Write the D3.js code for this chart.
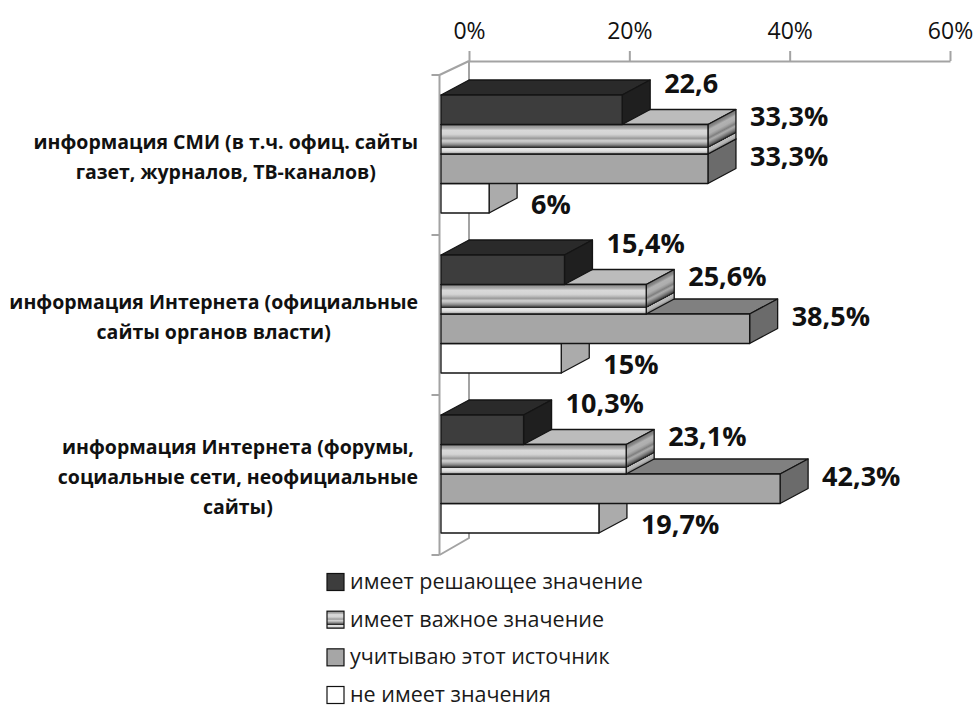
<!DOCTYPE html>
<html><head><meta charset="utf-8">
<script src="https://cdn.jsdelivr.net/npm/d3@7"></script>
<style>body{margin:0;background:#fff}svg{display:block}</style>
</head><body><svg id="c" width="975" height="707"></svg>
<script>
// ---- data ----
const categoryLines = [
  ["информация СМИ (в т.ч. офиц. сайты", "газет, журналов, ТВ-каналов)"],
  ["информация Интернета (официальные", "сайты органов власти)"],
  ["информация Интернета (форумы,", "социальные сети, неофициальные", "сайты)"]
];
const seriesNames = ["имеет решающее значение", "имеет важное значение", "учитываю этот источник", "не имеет значения"];
const decisive  = [22.6, 15.4, 10.3];
const important = [33.3, 25.6, 23.1];
const consider  = [33.3, 38.5, 42.3];
const noValue   = [6, 15, 19.7];
const decisiveLabels  = ["22,6", "15,4%", "10,3%"];
const importantLabels = ["33,3%", "25,6%", "23,1%"];
const considerLabels  = ["33,3%", "38,5%", "42,3%"];
const noValueLabels   = ["6%", "15%", "19,7%"];
const tickValues = [0, 20, 40, 60];
const tickLabels = ["0%", "20%", "40%", "60%"];

const seriesValues = [decisive, important, consider, noValue];
const seriesLabels = [decisiveLabels, importantLabels, considerLabels, noValueLabels];

// ---- layout / style ----
const FONT = "'Open Sans', 'Noto Sans', sans-serif";
const svg = d3.select("#c");
const depthX = 28, depthY = -15;
const axisY = 61;
const xBar = d3.scaleLinear().domain([0, 60]).range([441, 922]);
const xAxisScale = d3.scaleLinear().domain([0, 60]).range([441 + depthX, 922 + depthX]);
const yCat = d3.scaleBand().domain(d3.range(categoryLines.length)).range([75, 555]);
const ySer = d3.scaleBand().domain(d3.range(seriesNames.length)).range([20, 138]);
const labelDy = [-26, -23, -12, 6];

const defs = svg.append("defs");
function grad(id, stops, x1, y1, x2, y2) {
  const g = defs.append("linearGradient").attr("id", id)
    .attr("x1", x1).attr("y1", y1).attr("x2", x2).attr("y2", y2);
  stops.forEach(([o, c]) => g.append("stop").attr("offset", o).attr("stop-color", c));
}
const stripeStops = [
  [0, "#8a8a8a"], [0.12, "#a9a9a9"], [0.2, "#d9d9d9"], [0.33, "#d4d4d4"], [0.4, "#bcbcbc"],
  [0.47, "#9a9a9a"], [0.55, "#d0d0d0"], [0.6, "#bdbdbd"], [0.68, "#8c8c8c"], [0.74, "#5a5a5a"],
  [0.76, "#2e2e2e"], [0.79, "#2e2e2e"], [0.81, "#e6e6e6"], [0.9, "#dedede"], [1, "#999999"]
];
grad("stripeFront", stripeStops, 0, 0, 0, 1);
grad("stripeSide", stripeStops.map(([o, c]) => [o, d3.color(c).darker(0.55).formatHex()]), 0, 0.333, 0.2, 0.933);
grad("stripeLegend", stripeStops, 0, 0, 0, 1);

const styles = [
  { front: "#3d3d3d", top: "#2a2a2a", side: "#1f1f1f" },
  { front: "url(#stripeFront)", top: "#bcbcbc", side: "url(#stripeSide)" },
  { front: "#a6a6a6", top: "#808080", side: "#6b6b6b" },
  { front: "#ffffff", top: "#e3e3e3", side: "#ababab" }
];
const wallColor = "#a3a3a3";

// ---- top value axis ----
const axis = d3.axisTop(xAxisScale).tickValues(tickValues)
  .tickFormat((d, i) => tickLabels[i]).tickSize(10).tickSizeOuter(0).tickPadding(12);
const gAxis = svg.append("g").attr("transform", `translate(0,${axisY})`).call(axis);
gAxis.selectAll("path,line").attr("stroke", wallColor).attr("stroke-width", 2);
gAxis.selectAll("text").attr("font-family", FONT).attr("font-size", 23).attr("fill", "#111");

// ---- left wall (category axis) ----
const [yTop, yBot] = yCat.range();
const wallFrontX = xBar(0) - 1.5, wallBackX = xAxisScale(0);
const wall = svg.append("g").attr("fill", "none").attr("stroke", wallColor).attr("stroke-width", 2);
wall.append("path").attr("d", d3.line()([[wallBackX, axisY], [wallFrontX, yTop], [wallFrontX, yBot]]));
wall.append("path").attr("d", d3.line()([[wallBackX, axisY], [wallBackX, yBot - 17], [wallFrontX, yBot]]));
const catTicks = yCat.domain().map(d => yCat(d)).concat([yBot]);
wall.selectAll("line.ct").data(catTicks).join("line")
  .attr("x1", wallFrontX - 8).attr("x2", wallFrontX).attr("y1", d => d).attr("y2", d => d);

// ---- category labels ----
const catG = svg.append("g").attr("font-family", FONT).attr("font-weight", "bold")
  .attr("font-size", 19.5).attr("fill", "#111");
categoryLines.forEach((lines, c) => {
  const t = catG.append("text").attr("text-anchor", "middle");
  const cy = yCat(c) + yCat.bandwidth() / 2 + 2;
  lines.forEach((ln, j) => {
    t.append("tspan").attr("y", cy + (j - (lines.length - 1) / 2) * 30).attr("dy", "0.35em").text(ln);
  });
  let maxW = 0;
  t.selectAll("tspan").each(function () { maxW = Math.max(maxW, this.getComputedTextLength()); });
  t.selectAll("tspan").attr("x", 418 - maxW / 2);
});

// ---- 3D bars ----
const barsG = svg.append("g").attr("stroke", "#141414").attr("stroke-width", 1.3).attr("stroke-linejoin", "round");
categoryLines.forEach((_, c) => {
  for (let s = seriesNames.length - 1; s >= 0; s--) {
    const v = seriesValues[s][c];
    const y = yCat(c) + ySer(s), h = ySer.bandwidth();
    const x0 = xBar(0), x1 = xBar(v);
    const st = styles[s];
    const g = barsG.append("g");
    g.append("polygon").attr("fill", st.top)
      .attr("points", [[x0, y], [x1, y], [x1 + depthX, y + depthY], [x0 + depthX, y + depthY]].join(" "));
    g.append("polygon").attr("fill", st.side)
      .attr("points", [[x1, y], [x1 + depthX, y + depthY], [x1 + depthX, y + h + depthY], [x1, y + h]].join(" "));
    g.append("rect").attr("x", x0).attr("y", y).attr("width", x1 - x0).attr("height", h).attr("fill", st.front);
  }
});

// ---- data labels ----
const lblG = svg.append("g").attr("font-family", FONT).attr("font-weight", "bold")
  .attr("font-size", 27).attr("fill", "#111");
categoryLines.forEach((_, c) => {
  seriesValues.forEach((vals, s) => {
    const y = yCat(c) + ySer(s) + ySer.bandwidth() / 2 + labelDy[s];
    lblG.append("text").attr("x", xBar(vals[c]) + depthX + 14).attr("y", y).attr("dy", "0.35em")
      .text(seriesLabels[s][c]);
  });
});

// ---- legend ----
const legY = d3.scalePoint().domain(d3.range(seriesNames.length)).range([582, 695]);
const legG = svg.append("g").attr("font-family", FONT).attr("font-size", 21.5).attr("fill", "#1a1a1a");
const legendFills = ["#3d3d3d", "url(#stripeLegend)", "#a6a6a6", "#ffffff"];
seriesNames.forEach((name, i) => {
  legG.append("rect").attr("x", 327).attr("y", legY(i) - 8.5).attr("width", 17).attr("height", 17)
    .attr("fill", legendFills[i]).attr("stroke", "#111").attr("stroke-width", 1.2);
  legG.append("text").attr("x", 350).attr("y", legY(i)).attr("dy", "0.33em").text(name);
});
</script></body></html>
